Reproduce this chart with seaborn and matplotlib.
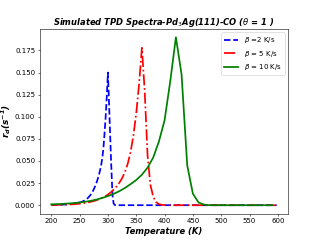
import matplotlib
matplotlib.use("Agg")
import matplotlib.pyplot as plt
import seaborn as sns
import pandas as pd

# Blue: beta = 2 K/s
T_b2 = [200, 202, 204, 206, 208, 210, 212, 214, 216, 218, 220, 222, 224, 226, 228,
        230, 232, 234, 236, 238, 240, 242, 244, 246, 248, 250, 252, 254, 256, 258,
        260, 262, 264, 266, 268, 270, 272, 274, 276, 278, 280, 282, 284, 286, 288,
        290, 292, 294, 296, 298, 300, 302, 304, 306, 308, 310, 312, 314, 316, 318,
        360, 400, 450, 500, 550, 598]
r_b2 = [0.0002, 0.0002, 0.0003, 0.0003, 0.0003, 0.0004, 0.0004, 0.0005, 0.0005, 0.0006,
        0.0006, 0.0007, 0.0008, 0.0009, 0.0010, 0.0011, 0.0012, 0.0013, 0.0015, 0.0016,
        0.0018, 0.0020, 0.0022, 0.0025, 0.0028, 0.0031, 0.0034, 0.0038, 0.0045, 0.0051,
        0.0058, 0.0067, 0.0078, 0.0091, 0.0106, 0.0123, 0.0143, 0.0166, 0.0193, 0.0224,
        0.0258, 0.0296, 0.0340, 0.0392, 0.0452, 0.0530, 0.0640, 0.0810, 0.1000, 0.1230,
        0.1500, 0.1150, 0.0780, 0.0430, 0.0120, 0.0020, 0.0003, 0.0, 0.0, 0.0,
        0.0, 0.0, 0.0, 0.0, 0.0, 0.0]

# Red: beta = 5 K/s
T_b5 = [200, 205, 210, 215, 220, 225, 230, 235, 240, 245, 250, 255, 260, 265, 270,
        275, 280, 285, 290, 295, 300, 305, 310, 315, 320, 325, 330, 335, 340, 345,
        350, 355, 360, 365, 370, 375, 380, 385, 390, 395, 400, 405,
        450, 500, 550, 595]
r_b5 = [0.0002, 0.0003, 0.0003, 0.0004, 0.0005, 0.0006, 0.0007, 0.0009, 0.0011, 0.0014,
        0.0017, 0.0021, 0.0026, 0.0032, 0.0039, 0.0047, 0.0057, 0.0069, 0.0083, 0.0100,
        0.0120, 0.0145, 0.0175, 0.0210, 0.0252, 0.0305, 0.0375, 0.0470, 0.0600, 0.0790,
        0.1040, 0.1370, 0.1780, 0.1280, 0.0560, 0.0230, 0.0095, 0.0035, 0.0012, 0.0004,
        0.0001, 0.0,
        0.0, 0.0, 0.0, 0.0]

# Green: beta = 10 K/s
T_b10 = [200, 210, 220, 230, 240, 250, 260, 270, 280, 290, 300, 310, 320, 330, 340,
         350, 360, 370, 380, 390, 400, 410, 420, 430, 440, 450, 460, 470, 480, 490,
         500, 510, 520, 530, 540, 550, 560, 570, 580, 590]
r_b10 = [0.0010, 0.0012, 0.0015, 0.0019, 0.0024, 0.0031, 0.0039, 0.0050, 0.0064, 0.0082,
         0.0103, 0.0128, 0.0158, 0.0195, 0.0238, 0.0285, 0.0345, 0.0425, 0.0540, 0.0720,
         0.0960, 0.1400, 0.1900, 0.1480, 0.0450, 0.0130, 0.0030, 0.0006, 0.0001, 0.0,
         0.0, 0.0, 0.0, 0.0, 0.0, 0.0, 0.0, 0.0, 0.0, 0.0]

labels = [r"$\beta$ =2 K/s", r"$\beta$ = 5 K/s", r"$\beta$ = 10 K/s"]
colors = ["blue", "red", "green"]
styles = ["--", "-.", "-"]

fig, ax = plt.subplots(figsize=(6.4, 4.8), dpi=50)

series = [(T_b2, r_b2), (T_b5, r_b5), (T_b10, r_b10)]
for (T, r), lab, c, ls in zip(series, labels, colors, styles):
    df = pd.DataFrame({"T": T, "r": r})
    sns.lineplot(data=df, x="T", y="r", ax=ax, color=c, linestyle=ls,
                 linewidth=2.5, label=lab)

ax.set_xticks([200, 250, 300, 350, 400, 450, 500, 550, 600])
ax.set_yticks([0.0, 0.025, 0.05, 0.075, 0.1, 0.125, 0.15, 0.175])
ax.set_yticklabels(["0.000", "0.025", "0.050", "0.075", "0.100", "0.125", "0.150", "0.175"])
ax.set_xlabel("Temperature (K)", fontweight="bold", style="italic", fontsize=12)
ax.set_ylabel(r"$\mathbfit{r_d (s^{-1})}$", fontsize=13, labelpad=2)
ax.set_title(r"Simulated TPD Spectra-Pd$_3$Ag(111)-CO ($\theta$ = 1 )",
             fontweight="bold", style="italic", fontsize=12)
ax.legend(loc="upper right")

fig.savefig("out.png", dpi=50)
